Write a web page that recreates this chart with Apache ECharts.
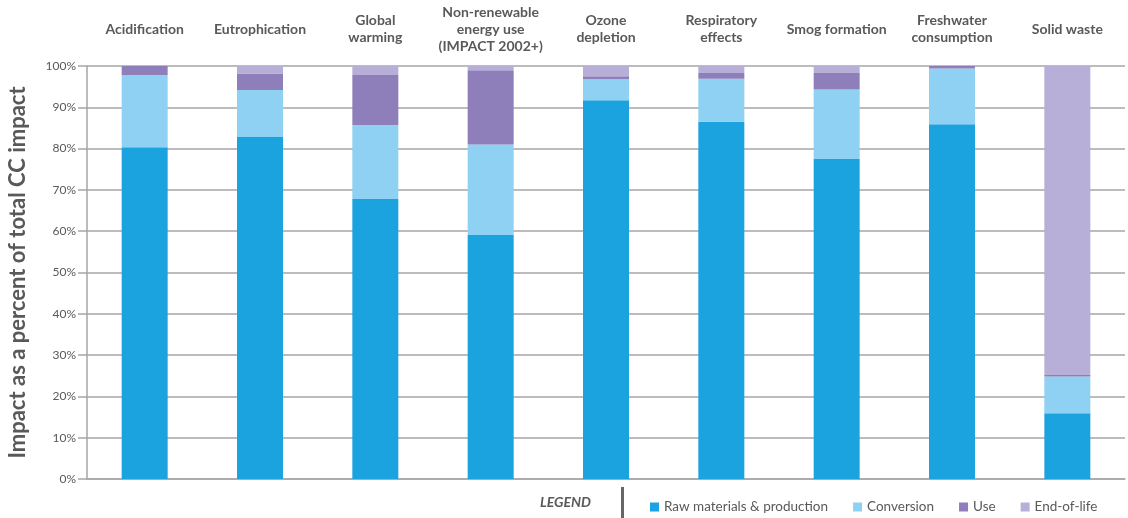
<!DOCTYPE html>
<html>
<head>
<meta charset="utf-8">
<script src="https://cdn.jsdelivr.net/npm/echarts@6/dist/echarts.min.js"></script>
<style>
  html, body { margin: 0; padding: 0; background: #fff; }
  #chart { width: 1128px; height: 518px; }
</style>
</head>
<body>
<div id="chart"></div>
<script>
// Impact categories (shown along the top of the chart)
const categories = [
  'Acidification',
  'Eutrophication',
  'Global\nwarming',
  'Non-renewable\nenergy use\n(IMPACT 2002+)',
  'Ozone\ndepletion',
  'Respiratory\neffects',
  'Smog formation',
  'Freshwater\nconsumption',
  'Solid waste'
];

// Share of total impact per life-cycle stage, in percent
const rawMaterials = [80.3, 82.9, 67.8, 59.1, 91.7, 86.5, 77.5, 85.9, 15.9];
const conversion   = [17.5, 11.3, 17.9, 21.9, 5.1, 10.4, 16.8, 13.5, 8.9];
const use          = [2.2, 4.0, 12.1, 18.0, 0.7, 1.4, 4.0, 0.6, 0.4];
const endOfLife    = [0.0, 1.8, 2.2, 1.0, 2.5, 1.7, 1.7, 0.0, 74.8];

const yTicks = [0, 10, 20, 30, 40, 50, 60, 70, 80, 90, 100];

const textColor = '#595959';
const gridColor = '#a6a6a6';
const fontFamily = 'Lato, "Open Sans", sans-serif';

const chart = echarts.init(document.getElementById('chart'));

function stackSeries(name, data, color) {
  return {
    name: name,
    type: 'bar',
    stack: 'total',
    data: data,
    barWidth: 46,
    itemStyle: { color: color },
    emphasis: { disabled: true }
  };
}

chart.setOption({
  animation: false,
  textStyle: { fontFamily: fontFamily },
  grid: { left: 87, right: 3, top: 66, bottom: 39, containLabel: false, outerBoundsMode: 'none' },
  legend: {
    left: 645,
    top: 495,
    itemWidth: 9,
    itemHeight: 9,
    itemGap: 25,
    icon: 'rect',
    textStyle: { color: textColor, fontSize: 13.5, fontFamily: fontFamily },
    data: ['Raw materials & production', 'Conversion', 'Use', 'End-of-life']
  },
  xAxis: [
    {
      type: 'category',
      data: categories,
      position: 'bottom',
      axisLine: { show: true, lineStyle: { color: gridColor, width: 1.5 } },
      axisTick: { show: false },
      axisLabel: { show: false }
    },
    {
      type: 'category',
      data: categories,
      position: 'top',
      axisLine: { show: false },
      axisTick: { show: false },
      axisLabel: {
        show: true,
        interval: 0,
        color: textColor,
        fontSize: 14,
        fontWeight: 'bold',
        lineHeight: 17,
        align: 'center',
        verticalAlign: 'middle',
        margin: 37
      }
    }
  ],
  yAxis: {
    type: 'value',
    min: yTicks[0],
    max: yTicks[yTicks.length - 1],
    interval: 10,
    name: 'Impact as a percent of total CC impact',
    nameLocation: 'middle',
    nameGap: 58,
    nameTextStyle: { color: textColor, fontSize: 22, fontWeight: 'bold', fontFamily: fontFamily },
    axisLine: { show: true, lineStyle: { color: gridColor, width: 1.5 } },
    axisTick: { show: true, length: 9, inside: false, lineStyle: { color: gridColor, width: 1.5 } },
    axisLabel: {
      color: textColor,
      fontSize: 12,
      margin: 11,
      formatter: function (v) { return v + '%'; }
    },
    splitLine: { show: true, lineStyle: { color: gridColor, width: 1.5 } }
  },
  graphic: [
    {
      type: 'text',
      left: 540,
      top: 495,
      style: {
        text: 'LEGEND',
        fill: textColor,
        font: 'italic bold 14px ' + fontFamily
      }
    },
    {
      type: 'rect',
      shape: { x: 621, y: 487, width: 3, height: 31 },
      style: { fill: '#666666' }
    }
  ],
  series: [
    stackSeries('Raw materials & production', rawMaterials, '#1ba3e0'),
    stackSeries('Conversion', conversion, '#8ed1f2'),
    stackSeries('Use', use, '#8e7fbb'),
    stackSeries('End-of-life', endOfLife, '#b8afd8')
  ]
});
</script>
</body>
</html>
